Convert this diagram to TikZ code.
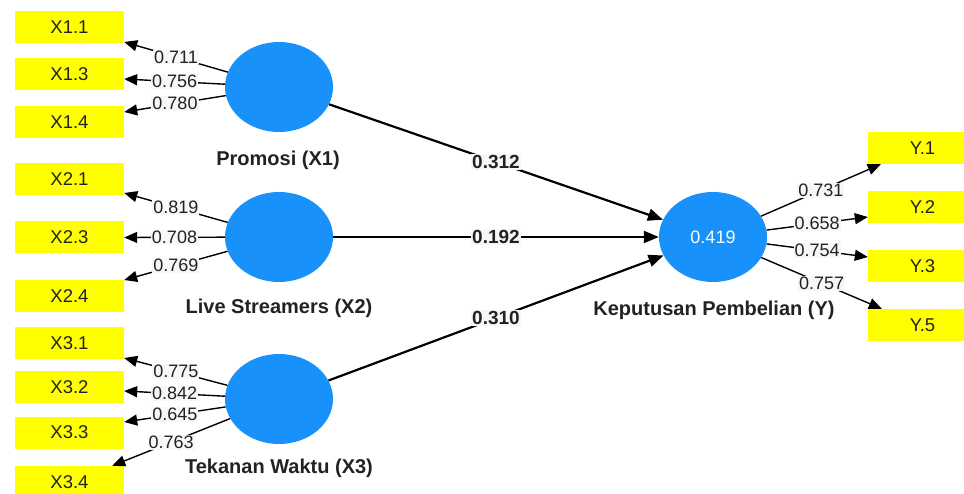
\documentclass[tikz,border=0pt]{standalone}
\usepackage{fontspec}
\setmainfont{Liberation Sans}
\usetikzlibrary{arrows.meta,shapes.geometric}
\definecolor{lvblue}{RGB}{24,146,250}
\definecolor{indyellow}{RGB}{255,255,0}
\definecolor{txt}{RGB}{34,34,34}
\begin{document}
\begin{tikzpicture}[x=1pt,y=-1pt,
  ind/.style={rectangle, fill=indyellow, minimum width=109pt, minimum height=32pt, inner sep=0pt, font=\fontsize{18.5}{18.5}\selectfont, text=txt},
  lv/.style={ellipse, fill=lvblue, minimum width=108pt, minimum height=90pt, inner sep=0pt},
  lvlab/.style={font=\bfseries\fontsize{20}{20}\selectfont, text=txt},
  ld/.style={line width=1.4pt, -{Triangle[length=13pt,width=11pt]}, draw=black},
  pth/.style={line width=2.2pt, -{Triangle[length=15pt,width=12pt]}, draw=black},
  lw/.style={fill=gray!6, inner sep=1pt, font=\fontsize{18}{18}\selectfont, text=txt},
  pw/.style={fill=gray!6, inner sep=1pt, font=\bfseries\fontsize{19}{19}\selectfont, text=txt}]
\useasboundingbox (0,0) rectangle (964,494);
\clip (0,0) rectangle (964,494);
% indicators
\node[ind] (x11) at (69.5,27) {X1.1};
\node[ind] (x13) at (69.5,74.5) {X1.3};
\node[ind] (x14) at (69.5,122) {X1.4};
\node[ind] (x21) at (69.5,179) {X2.1};
\node[ind] (x23) at (69.5,237.5) {X2.3};
\node[ind] (x24) at (69.5,296.5) {X2.4};
\node[ind] (x31) at (69.5,343) {X3.1};
\node[ind] (x32) at (69.5,387) {X3.2};
\node[ind] (x33) at (69.5,432.5) {X3.3};
\node[ind] (x34) at (69.5,482) {X3.4};
\node[ind] (y1) at (922.5,148) {Y.1};
\node[ind] (y2) at (922.5,207) {Y.2};
\node[ind] (y3) at (922.5,266) {Y.3};
\node[ind] (y5) at (922.5,325) {Y.5};
% latent variables
\node[lv] (X1) at (279,87) {};
\node[lv] (X2) at (279,237) {};
\node[lv] (X3) at (279,399) {};
\node[lv] (Y) at (713,237) {};
\node[font=\fontsize{18}{18}\selectfont, text=white] (r2) at (Y) {0.419};
\node[lvlab] (lx1) at (278,160) {Promosi (X1)};
\node[lvlab] (lx2) at (279,308) {Live Streamers (X2)};
\node[lvlab] (lx3) at (279,468) {Tekanan Waktu (X3)};
\node[lvlab] (ly) at (714,310) {Keputusan Pembelian (Y)};
% loadings
\draw[ld] (X1) -- node[lw]{0.711} ([yshift=-15pt]x11.east);
\draw[ld] (X1) -- node[lw]{0.756} ([yshift=-4.5pt]x13.east);
\draw[ld] (X1) -- node[lw]{0.780} ([yshift=10pt]x14.east);
\draw[ld] (X2) -- node[lw]{0.819} ([yshift=-14pt]x21.east);
\draw[ld] (X2) -- node[lw]{0.708} (x23.east);
\draw[ld] (X2) -- node[lw]{0.769} ([yshift=16.5pt]x24.east);
\draw[ld] (X3) -- node[lw]{0.775} ([yshift=-15pt]x31.east);
\draw[ld] (X3) -- node[lw]{0.842} ([yshift=-4pt]x32.east);
\draw[ld] (X3) -- node[lw]{0.645} ([yshift=10.5pt]x33.east);
\draw[ld] (X3) -- node[lw]{0.763} ([xshift=-12pt]x34.north east);
\draw[ld] (Y) -- node[lw]{0.731} ([xshift=13pt]y1.south west);
\draw[ld] (Y) -- node[lw]{0.658} ([yshift=-10pt]y2.west);
\draw[ld] (Y) -- node[lw]{0.754} ([yshift=9pt]y3.west);
\draw[ld] (Y) -- node[lw]{0.757} ([xshift=14pt]y5.north west);
% paths
\draw[pth] (X1) -- node[pw]{0.312} (Y);
\draw[pth] (X2) -- node[pw]{0.192} (Y);
\draw[pth] (X3) -- node[pw]{0.310} (Y);
\end{tikzpicture}
\end{document}
